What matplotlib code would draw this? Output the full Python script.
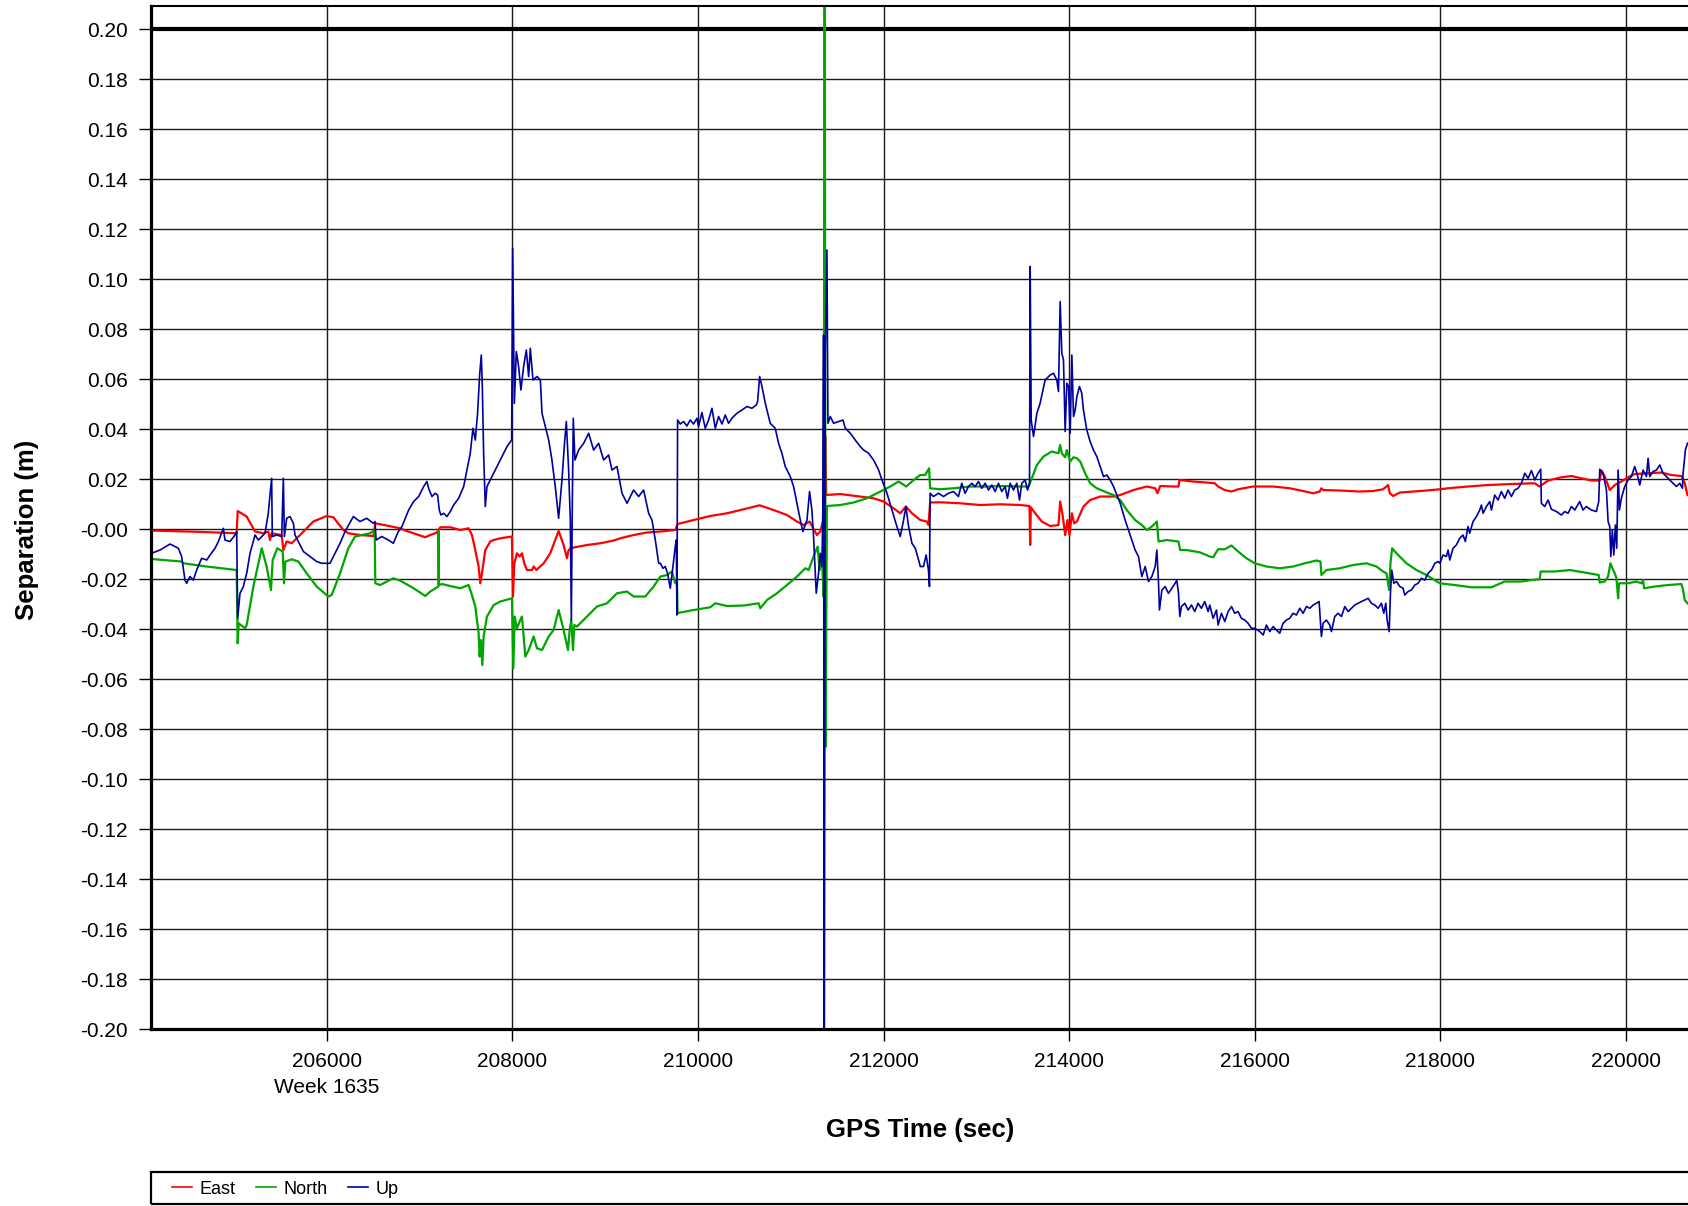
import matplotlib
matplotlib.use("Agg")
import matplotlib.pyplot as plt
from matplotlib.lines import Line2D
from matplotlib.patches import Rectangle

plt.rcParams['font.family'] = ['Liberation Sans', 'DejaVu Sans']

# GPS time (s) and separation (m)
east_t = [204114, 204600, 205030, 205041, 205138, 205228, 205318, 205371, 205389, 205407,
          205515, 205533, 205569, 205623, 205713, 205856, 206000, 206072, 206180, 206233,
          206359, 206503, 206524, 206647, 206790,
          206847, 206937, 207062, 207116, 207188, 207224, 207332, 207440, 207529, 207565,
          207601, 207637, 207655, 207673, 207709, 207763, 207799, 207871, 207996, 208007,
          208022, 208050, 208079, 208104, 208129, 208158, 208212, 208230, 208259, 208338,
          208409, 208463, 208499, 208553, 208589, 208607, 208632, 208661, 208805, 208948,
          209092, 209164, 209307, 209451, 209595,
          209756, 209781, 209953, 210133, 210313, 210492, 210665, 210815, 210959, 211067,
          211139, 211203, 211282, 211318, 211347, 211361, 211372, 211383, 211534, 211749,
          211893, 212000, 212108, 212180, 212241, 212306, 212396,
          212466, 212484, 212502, 212610, 212825, 213041, 213256, 213472, 213573, 213580,
          213587, 213634, 213705, 213795, 213885, 213903, 213932, 213957, 213982, 214004,
          214029, 214054, 214083, 214154, 214226, 214334, 214478, 214550, 214693, 214837,
          214927, 214952, 214981, 215124, 215178, 215189,
          215335, 215479, 215569, 215605, 215677, 215749, 215820, 215982, 216198, 216377,
          216521, 216629, 216700, 216718, 216736, 216916, 217131, 217275, 217383, 217437,
          217455, 217491, 217563, 217706, 217850, 217994,
          218083, 218298, 218514, 218765, 219017, 219070, 219160, 219304, 219412, 219519,
          219627, 219717, 219735, 219771, 219825, 219879, 219950, 220022, 220094, 220238,
          220382, 220489, 220597, 220633, 220662]
east_v = [-0.0005, -0.0010, -0.0016, 0.0073, 0.0051, -0.0009, -0.0016, -0.0009, -0.0043, -0.0016,
          -0.0023, -0.0083, -0.0049, -0.0056, -0.0023, 0.0031, 0.0053, 0.0048, -0.0003, -0.0016,
          -0.0023, -0.0027, 0.0024, 0.0015, 0.0004,
          -0.0005, -0.0016, -0.0032, -0.0023, -0.0013, 0.0008, 0.0008, -0.0003, 0.0004, -0.0023,
          -0.0083, -0.0149, -0.0216, -0.0176, -0.0083, -0.0049, -0.0043, -0.0036, -0.0029, -0.0269,
          -0.0136, -0.0096, -0.0109, -0.0096, -0.0136, -0.0163, -0.0163, -0.0149, -0.0163, -0.0136,
          -0.0096, -0.0043, -0.0007, -0.0063, -0.0116, -0.0083, -0.0076, -0.0073, -0.0063, -0.0056,
          -0.0045, -0.0036, -0.0023, -0.0013, -0.0009,
          -0.0003, 0.0021, 0.0037, 0.0053, 0.0064, 0.0080, 0.0096, 0.0077, 0.0057, 0.0031,
          0.0017, 0.0031, -0.0023, -0.0009, 0.0031, 0.0064, 0.0371, 0.0137, 0.0141, 0.0131,
          0.0124, 0.0111, 0.0084, 0.0064, 0.0091, 0.0064, 0.0037,
          0.0031, 0.0017, 0.0107, 0.0108, 0.0104, 0.0097, 0.0100, 0.0097, 0.0093, -0.0063,
          0.0088, 0.0064, 0.0031, 0.0013, 0.0017, 0.0111, 0.0051, -0.0023, 0.0037, -0.0023,
          0.0064, 0.0024, 0.0031, 0.0091, 0.0117, 0.0131, 0.0131, 0.0137, 0.0157, 0.0171,
          0.0164, 0.0144, 0.0173, 0.0171, 0.0171, 0.0197,
          0.0191, 0.0187, 0.0184, 0.0171, 0.0157, 0.0151, 0.0160, 0.0171, 0.0171, 0.0164,
          0.0153, 0.0144, 0.0151, 0.0164, 0.0157, 0.0155, 0.0151, 0.0153, 0.0160, 0.0177,
          0.0144, 0.0133, 0.0147, 0.0151, 0.0155, 0.0160,
          0.0164, 0.0171, 0.0177, 0.0181, 0.0184, 0.0171, 0.0195, 0.0208, 0.0213, 0.0204,
          0.0195, 0.0195, 0.0235, 0.0211, 0.0157, 0.0177, 0.0191, 0.0208, 0.0221, 0.0224,
          0.0227, 0.0217, 0.0213, 0.0184, 0.0137]

north_t = [204110, 204114, 204437, 204455, 204707, 205030, 205041, 205052, 205120, 205138,
           205210, 205300, 205353, 205400, 205418, 205468, 205526, 205540, 205555, 205623,
           205695, 205784, 205892, 206018, 206054, 206144, 206233, 206305, 206467, 206517,
           206524, 206575, 206718, 206790,
           206937, 207062, 207116, 207203, 207206, 207210, 207242, 207332, 207440, 207529,
           207565, 207601, 207637, 207648, 207662, 207677, 207691, 207727, 207799, 207871,
           207996, 208011, 208025, 208050, 208086, 208104, 208140, 208176, 208230, 208266,
           208320, 208392, 208445, 208499, 208553, 208600, 208618, 208636, 208654, 208668,
           208697, 208805, 208912, 209020, 209128, 209236, 209307, 209433, 209523, 209595,
           209666, 209720, 209756, 209774, 209781, 209810, 209953, 210133, 210187, 210313,
           210492, 210654, 210672, 210744, 210851, 210959, 211067, 211157, 211193, 211246,
           211290, 211311, 211336, 211354, 211366, 211376, 211390, 211534, 211677, 211821,
           211965, 212073, 212162, 212245, 212324, 212396,
           212448, 212491, 212502, 212610, 212754, 212933, 213113, 213292, 213472, 213562,
           213598, 213652, 213723, 213813, 213885, 213903, 213921, 213957, 213975, 214011,
           214047, 214083, 214119, 214172, 214226, 214298, 214406, 214478, 214550, 214621,
           214711, 214783, 214837, 214891, 214945, 214963, 215052, 215178, 215196,
           215264, 215407, 215515, 215551, 215605, 215677, 215749, 215820, 215910, 216000,
           216126, 216269, 216413, 216539, 216665, 216708, 216718, 216772, 216916, 217060,
           217203, 217311, 217383, 217419, 217448, 217462, 217480, 217527, 217634, 217742,
           217850, 217994,
           218154, 218334, 218550, 218693, 218873, 218981, 219070, 219081, 219232, 219394,
           219555, 219706, 219717, 219771, 219807, 219832, 219853, 219879, 219897, 219915,
           219925, 220022, 220112, 220166, 220184, 220195, 220310, 220453, 220597, 220615,
           220633, 220662]
north_v = [0.25, -0.0119, -0.0129, -0.0136, -0.0149, -0.0163, -0.0456, -0.0376, -0.0396, -0.0383,
           -0.0229, -0.0076, -0.0149, -0.0243, -0.0123, -0.0076, -0.0089, -0.0216, -0.0129, -0.0120,
           -0.0129, -0.0176, -0.0229, -0.0269, -0.0263, -0.0176, -0.0076, -0.0029, -0.0016, -0.0003,
           -0.0216, -0.0223, -0.0196, -0.0205,
           -0.0236, -0.0267, -0.0249, -0.0229, -0.0009, -0.0223, -0.0219, -0.0227, -0.0236, -0.0223,
           -0.0263, -0.0309, -0.0416, -0.0509, -0.0443, -0.0543, -0.0429, -0.0349, -0.0303, -0.0289,
           -0.0276, -0.0556, -0.0349, -0.0396, -0.0363, -0.0349, -0.0509, -0.0483, -0.0429, -0.0476,
           -0.0483, -0.0429, -0.0403, -0.0323, -0.0403, -0.0483, -0.0403, -0.0363, -0.0483, -0.0383,
           -0.0389, -0.0349, -0.0309, -0.0296, -0.0256, -0.0249, -0.0269, -0.0269, -0.0229, -0.0189,
           -0.0183, -0.0169, -0.0216, -0.0203, -0.0336, -0.0333, -0.0323, -0.0312, -0.0296, -0.0307,
           -0.0305, -0.0296, -0.0316, -0.0283, -0.0256, -0.0223, -0.0189, -0.0156, -0.0163, -0.0109,
           -0.0069, -0.0163, -0.0103, -0.0269, 0.25, -0.087, 0.0093, 0.0097, 0.0107, 0.0124,
           0.0151, 0.0171, 0.0191, 0.0171, 0.0197, 0.0217,
           0.0217, 0.0244, 0.0164, 0.0160, 0.0164, 0.0171, 0.0171, 0.0173, 0.0171, 0.0171,
           0.0204, 0.0257, 0.0291, 0.0311, 0.0304, 0.0337, 0.0304, 0.0288, 0.0317, 0.0271,
           0.0288, 0.0284, 0.0271, 0.0224, 0.0184, 0.0164, 0.0147, 0.0137, 0.0117, 0.0077,
           0.0037, 0.0017, -0.0003, 0.0011, 0.0031, -0.0049, -0.0043, -0.0049, -0.0083,
           -0.0083, -0.0092, -0.0109, -0.0112, -0.0080, -0.0080, -0.0065, -0.0089, -0.0116, -0.0136,
           -0.0149, -0.0156, -0.0149, -0.0136, -0.0125, -0.0129, -0.0183, -0.0163, -0.0156, -0.0143,
           -0.0136, -0.0149, -0.0169, -0.0176, -0.0243, -0.0136, -0.0076, -0.0096, -0.0136, -0.0163,
           -0.0183, -0.0216,
           -0.0223, -0.0232, -0.0232, -0.0209, -0.0209, -0.0203, -0.0200, -0.0169, -0.0169, -0.0163,
           -0.0173, -0.0183, -0.0213, -0.0209, -0.0189, -0.0136, -0.0156, -0.0176, -0.0196, -0.0276,
           -0.0216, -0.0216, -0.0209, -0.0216, -0.0203, -0.0236, -0.0229, -0.0223, -0.0219, -0.0243,
           -0.0283, -0.0296]

up_t = [204110, 204114, 204204, 204312, 204402, 204437, 204473, 204491, 204527, 204563,
        204599, 204653, 204707, 204743, 204797, 204833, 204886, 204904, 204958, 205012,
        205030, 205041, 205066, 205102, 205138, 205174, 205228, 205264, 205300, 205335,
        205371, 205389, 205407, 205414, 205461, 205515, 205533, 205544, 205569, 205605,
        205641, 205659, 205713, 205749, 205820, 205892, 205946, 206036, 206090, 206144,
        206198, 206287, 206359, 206431, 206503, 206521, 206532, 206593, 206665, 206718,
        206772, 206790,
        206811, 206847, 206883, 206937, 206991, 207045, 207080, 207098, 207134, 207170,
        207195, 207213, 207231, 207260, 207296, 207332, 207368, 207422, 207476, 207511,
        207547, 207576, 207601, 207626, 207648, 207666, 207677, 207691, 207709, 207727,
        207781, 207835, 207889, 207943, 207993, 208004, 208022, 208043, 208068, 208093,
        208122, 208151, 208176, 208194, 208223, 208266, 208302, 208320, 208356, 208392,
        208427, 208463, 208499, 208535, 208560, 208582, 208607, 208625, 208636, 208647,
        208657, 208675, 208715, 208769, 208823, 208876, 208930, 208984, 209038, 209074,
        209128, 209182, 209236, 209307, 209361, 209415, 209469, 209505, 209541, 209577,
        209595,
        209623, 209648, 209673, 209702, 209731, 209756, 209767, 209774, 209781, 209810,
        209846, 209881, 209917, 209953, 209989, 210007, 210043, 210079, 210115, 210151,
        210187, 210223, 210259, 210295, 210330, 210366, 210420, 210474, 210528, 210582,
        210629, 210643, 210665, 210690, 210726, 210779, 210833, 210869, 210905, 210941,
        210995, 211031, 211067, 211103, 211131, 211175, 211203, 211228, 211246, 211275,
        211300, 211318, 211336, 211347, 211354, 211361, 211372, 211390, 211401, 211426,
        211462, 211516, 211563, 211588, 211642, 211695, 211749, 211785, 211839, 211893,
        211947, 211983, 212037, 212091, 212144, 212180, 212216, 212241, 212270, 212306,
        212342, 212378, 212396,
        212430, 212459, 212484, 212495, 212502, 212538, 212592, 212646, 212700, 212754,
        212807, 212843, 212879, 212915, 212951, 212987, 213023, 213059, 213095, 213131,
        213167, 213203, 213238, 213274, 213310, 213335, 213364, 213400, 213436, 213465,
        213490, 213526, 213551, 213573, 213580, 213591, 213616, 213652, 213687, 213741,
        213795, 213831, 213867, 213885, 213903, 213921, 213939, 213957, 213975, 213993,
        214011, 214029, 214047, 214065, 214083, 214111, 214136, 214154, 214190, 214226,
        214262, 214298, 214334, 214370, 214406, 214442, 214478, 214514, 214550, 214603,
        214639, 214675, 214711, 214747, 214783, 214819, 214855, 214891, 214927, 214945,
        214963, 214973, 214999, 215034, 215070, 215106, 215142, 215160, 215178, 215192,
        215210, 215246, 215282, 215318, 215353, 215389, 215425, 215461, 215497, 215515,
        215551, 215587, 215605, 215641, 215677, 215713, 215749, 215784, 215820, 215856,
        215892, 215928, 215964, 216000, 216054, 216090, 216126, 216162, 216198, 216233,
        216269, 216305, 216341, 216377, 216413, 216449, 216485, 216521, 216557, 216593,
        216629, 216665, 216693, 216718, 216736, 216772, 216808, 216826, 216862, 216898,
        216934, 216970, 217006, 217042, 217078, 217114, 217149, 217185, 217221, 217257,
        217293, 217329, 217365, 217390, 217412, 217426, 217448, 217462, 217476, 217498,
        217527, 217563, 217598, 217616, 217652, 217688, 217724, 217760, 217796, 217832,
        217868, 217904, 217940, 217976, 217994,
        218029, 218065, 218083, 218101, 218136, 218172, 218208, 218244, 218269, 218298,
        218316, 218352, 218388, 218424, 218442, 218460, 218496, 218532, 218550, 218585,
        218621, 218657, 218693, 218729, 218765, 218801, 218837, 218873, 218909, 218945,
        218981, 219017, 219052, 219081, 219088, 219124, 219160, 219196, 219250, 219304,
        219340, 219376, 219412, 219448, 219501, 219537, 219573, 219627, 219681, 219706,
        219717, 219753, 219789, 219807, 219825, 219836, 219853, 219868, 219886, 219900,
        219915, 219929, 219950, 219986, 220022, 220058, 220094, 220123, 220148, 220184,
        220220, 220238, 220256, 220292, 220328, 220364, 220399, 220435, 220471, 220507,
        220543, 220579, 220608, 220615, 220640, 220662]
up_v = [-0.25, -0.0096, -0.0083, -0.0059, -0.0076, -0.0109, -0.0203, -0.0216, -0.0189, -0.0203,
        -0.0163, -0.0116, -0.0123, -0.0103, -0.0076, -0.0049, 0.0004, -0.0043, -0.0049, -0.0023,
        -0.0009, -0.0356, -0.0256, -0.0229, -0.0176, -0.0096, -0.0023, -0.0043, -0.0029, -0.0016,
        0.0064, 0.0137, 0.0204, -0.0029, -0.0023, -0.0029, 0.0204, -0.0029, 0.0044, 0.0051,
        0.0024, -0.0023, -0.0063, -0.0089, -0.0109, -0.0129, -0.0136, -0.0136, -0.0096, -0.0056,
        -0.0009, 0.0051, 0.0031, 0.0044, 0.0024, 0.0031, -0.0043, -0.0029, -0.0043, -0.0056,
        -0.0009, -0.0001,
        0.0011, 0.0044, 0.0077, 0.0111, 0.0131, 0.0171, 0.0191, 0.0164, 0.0131, 0.0144,
        0.0137, 0.0077, 0.0057, 0.0064, 0.0051, 0.0071, 0.0097, 0.0124, 0.0171, 0.0237,
        0.0304, 0.0404, 0.0357, 0.0464, 0.0617, 0.0697, 0.0571, 0.0304, 0.0091, 0.0171,
        0.0211, 0.0251, 0.0291, 0.0331, 0.0357, 0.1124, 0.0504, 0.0711, 0.0651, 0.0557,
        0.0651, 0.0717, 0.0611, 0.0724, 0.0597, 0.0611, 0.0597, 0.0464, 0.0411, 0.0357,
        0.0277, 0.0171, 0.0044, 0.0197, 0.0331, 0.0431, 0.0237, 0.0037, -0.0363, 0.0117,
        0.0444, 0.0277, 0.0317, 0.0344, 0.0384, 0.0317, 0.0344, 0.0277, 0.0297, 0.0237,
        0.0251, 0.0144, 0.0104, 0.0157, 0.0131, 0.0157, 0.0064, 0.0037, -0.0043, -0.0136,
        -0.0136,
        -0.0156, -0.0149, -0.0176, -0.0236, -0.0149, -0.0069, -0.0043, -0.0343, 0.0437, 0.0421,
        0.0431, 0.0413, 0.0437, 0.0421, 0.0444, 0.0411, 0.0467, 0.0404, 0.0437, 0.0484,
        0.0404, 0.0451, 0.0421, 0.0457, 0.0424, 0.0444, 0.0464, 0.0477, 0.0491, 0.0484,
        0.0497, 0.0511, 0.0611, 0.0571, 0.0504, 0.0424, 0.0404, 0.0344, 0.0304, 0.0251,
        0.0211, 0.0171, 0.0104, 0.0037, -0.0009, 0.0037, 0.0151, 0.0077, -0.0029, -0.0256,
        -0.0176, -0.0096, -0.0149, 0.0104, 0.0777, -0.25, 0.0704, 0.1117, 0.0424, 0.0451,
        0.0424, 0.0431, 0.0437, 0.0404, 0.0384, 0.0357, 0.0331, 0.0317, 0.0304, 0.0277,
        0.0237, 0.0197, 0.0144, 0.0077, 0.0011, -0.0029, 0.0037, 0.0091, 0.0011, -0.0056,
        -0.0076, -0.0123, -0.0149,
        -0.0149, -0.0103, -0.0163, -0.0229, 0.0144, 0.0131, 0.0144, 0.0131, 0.0144, 0.0151,
        0.0131, 0.0184, 0.0144, 0.0171, 0.0184, 0.0171, 0.0191, 0.0164, 0.0184, 0.0157,
        0.0177, 0.0151, 0.0184, 0.0151, 0.0171, 0.0124, 0.0184, 0.0157, 0.0184, 0.0117,
        0.0184, 0.0197, 0.0157, 0.0184, 0.1051, 0.0437, 0.0371, 0.0464, 0.0504, 0.0597,
        0.0617, 0.0624, 0.0597, 0.0551, 0.0911, 0.0704, 0.0677, 0.0391, 0.0584, 0.0571,
        0.0384, 0.0697, 0.0451, 0.0477, 0.0531, 0.0571, 0.0544, 0.0477, 0.0397, 0.0351,
        0.0317, 0.0291, 0.0251, 0.0211, 0.0217, 0.0197, 0.0171, 0.0137, 0.0104, 0.0037,
        -0.0003, -0.0043, -0.0083, -0.0109, -0.0189, -0.0149, -0.0209, -0.0189, -0.0149, -0.0083,
        -0.0216, -0.0323, -0.0243, -0.0229, -0.0256, -0.0236, -0.0216, -0.0203, -0.0256, -0.0349,
        -0.0309, -0.0296, -0.0323, -0.0303, -0.0329, -0.0296, -0.0316, -0.0289, -0.0329, -0.0303,
        -0.0356, -0.0323, -0.0383, -0.0336, -0.0369, -0.0329, -0.0309, -0.0336, -0.0329, -0.0356,
        -0.0363, -0.0376, -0.0396, -0.0396, -0.0409, -0.0423, -0.0383, -0.0409, -0.0389, -0.0403,
        -0.0416, -0.0376, -0.0363, -0.0356, -0.0336, -0.0343, -0.0316, -0.0336, -0.0309, -0.0316,
        -0.0303, -0.0296, -0.0289, -0.0429, -0.0376, -0.0363, -0.0383, -0.0409, -0.0349, -0.0336,
        -0.0349, -0.0309, -0.0329, -0.0316, -0.0303, -0.0296, -0.0289, -0.0283, -0.0276, -0.0296,
        -0.0303, -0.0316, -0.0296, -0.0336, -0.0296, -0.0363, -0.0409, -0.0256, -0.0163, -0.0216,
        -0.0209, -0.0229, -0.0236, -0.0263, -0.0249, -0.0243, -0.0223, -0.0216, -0.0196, -0.0203,
        -0.0176, -0.0163, -0.0136, -0.0129, -0.0136,
        -0.0103, -0.0109, -0.0083, -0.0123, -0.0076, -0.0063, -0.0036, -0.0023, -0.0049, 0.0011,
        -0.0016, 0.0031, 0.0051, 0.0077, 0.0097, 0.0064, 0.0091, 0.0111, 0.0077, 0.0137,
        0.0117, 0.0151, 0.0124, 0.0157, 0.0131, 0.0157, 0.0164, 0.0184, 0.0224, 0.0204,
        0.0235, 0.0197, 0.0224, 0.0240, 0.0104, 0.0091, 0.0117, 0.0080, 0.0071, 0.0057,
        0.0071, 0.0064, 0.0091, 0.0077, 0.0111, 0.0077, 0.0091, 0.0077, 0.0071, 0.0111,
        0.0240, 0.0224, 0.0157, 0.0031, 0.0011, -0.0109, -0.0003, -0.0103, 0.0017, -0.0076,
        0.0237, 0.0077, 0.0124, 0.0171, 0.0197, 0.0211, 0.0251, 0.0217, 0.0177, 0.0237,
        0.0211, 0.0284, 0.0211, 0.0231, 0.0237, 0.0257, 0.0224, 0.0211, 0.0197, 0.0184,
        0.0171, 0.0184, 0.0164, 0.0224, 0.0317, 0.0344]

series_names = ["East", "North", "Up"]
series_colors = ["#ff0000", "#00a600", "#0000a0"]

yticks = [-0.20, -0.18, -0.16, -0.14, -0.12, -0.10, -0.08, -0.06, -0.04, -0.02, 0.0,
          0.02, 0.04, 0.06, 0.08, 0.10, 0.12, 0.14, 0.16, 0.18, 0.20]
ytick_labels = ["-0.20", "-0.18", "-0.16", "-0.14", "-0.12", "-0.10", "-0.08", "-0.06",
                "-0.04", "-0.02", "-0.00", "0.02", "0.04", "0.06", "0.08", "0.10", "0.12",
                "0.14", "0.16", "0.18", "0.20"]
xticks = [206000, 208000, 210000, 212000, 214000, 216000, 218000, 220000]
xtick_labels = ["206000\nWeek 1635", "208000", "210000", "212000", "214000", "216000",
                "218000", "220000"]

W, H = 1688, 1206
fig = plt.figure(figsize=(W / 100, H / 100), dpi=100)
ax = fig.add_axes([151 / W, 1 - 1029.3 / H, 1 - 151 / W, (1029.3 - 6) / H])

ax.plot(east_t, east_v, color=series_colors[0], lw=1.6, zorder=3)
ax.plot(north_t, north_v, color=series_colors[1], lw=1.6, zorder=4)
ax.plot(up_t, up_v, color=series_colors[2], lw=1.2, zorder=5)

ax.set_xlim(204107, 220668)
ax.set_ylim(-0.20, 0.2093)
ax.set_yticks(yticks)
ax.set_yticklabels(ytick_labels)
ax.set_xticks(xticks)
ax.set_xticklabels(xtick_labels)
for lbl in ax.get_xticklabels():
    lbl.set_linespacing(1.45)
ax.grid(True, color="#1a1a1a", lw=1.0)
ax.set_axisbelow(True)
ax.axhline(0.20, color="black", lw=3.0, zorder=2)

ax.tick_params(axis="both", direction="out", length=8.6, width=1.0, pad=8,
               labelsize=15, colors="black")
for side, lw in [("left", 2.3), ("bottom", 2.3), ("top", 1.5)]:
    ax.spines[side].set_linewidth(lw)
    ax.spines[side].set_zorder(6)
ax.spines["right"].set_visible(False)

fig.text(27 / W, 1 - 530 / H, "Separation (m)", rotation=90, ha="center", va="center",
         fontsize=18.5, fontweight="bold")
fig.text(920 / W, 1 - 1130 / H, "GPS Time (sec)", ha="center", va="center",
         fontsize=18.5, fontweight="bold")

# legend strip along the bottom edge
fig.add_artist(Rectangle((151 / W, 1 - 1204 / H), 1.0, 32 / H, transform=fig.transFigure,
                         fill=False, edgecolor="black", lw=1.6))
handles = [Line2D([], [], color=c, lw=1.2) for c in series_colors]
fig.legend(handles, series_names, loc="center left", bbox_to_anchor=(172 / W, 1 - 1189 / H),
           ncol=3, frameon=False, fontsize=13, handlelength=1.1, handletextpad=0.45,
           columnspacing=1.1, borderpad=0, borderaxespad=0)

fig.savefig("out.png", dpi=100)
